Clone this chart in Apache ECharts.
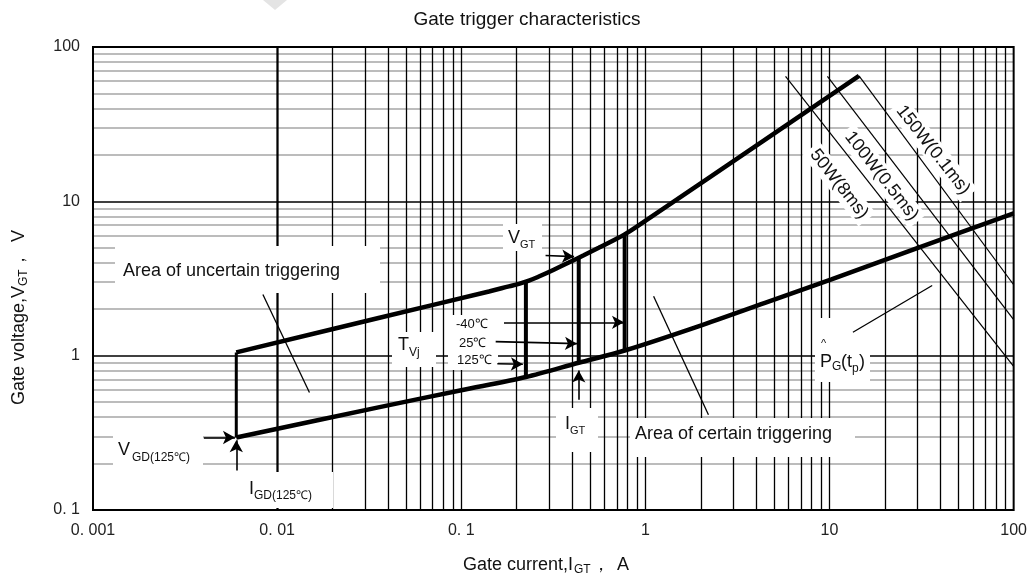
<!DOCTYPE html>
<html><head><meta charset="utf-8">
<script src="https://cdn.jsdelivr.net/npm/echarts@6/dist/echarts.min.js"></script>
<style>html,body{margin:0;padding:0;background:#fff;}#c{width:1030px;height:578px;}</style>
</head><body><div id="c"></div>
<script>
// ---- tick labels ----
const xTickValues = [0.001, 0.01, 0.1, 1, 10, 100];
const xTickLabels = ['0. 001', '0. 01', '0. 1', '1', '10', '100'];
const yTickValues = [0.1, 1, 10, 100];
const yTickLabels = ['0. 1', '1', '10', '100'];
const gridMultipliers = [2, 3, 4, 5, 6, 7, 8, 9];
const xDecades = [0.001, 0.01, 0.1, 1, 10];
const yDecades = [0.1, 1, 10];
const xInnerDecades = [0.01, 0.1, 1, 10];
const yInnerDecades = [1, 10];

// ---- boundary curves (I_GT [A], V_GT [V]) ----
const upperX = [0.006, 0.036, 0.1414, 0.1815, 0.2056, 0.2330, 0.2639, 0.3182, 0.3837, 0.4626, 0.5578, 0.6727, 0.7717, 0.9189, 14.46];
const upperY = [1.05, 1.76, 2.607, 2.810, 2.917, 3.060, 3.258, 3.607, 4.011, 4.473, 4.998, 5.598, 6.107, 6.985, 65.1];
const lowerX = [0.006, 0.036, 0.1, 0.2244, 0.4345, 0.7717, 1.94, 4.46, 10.24, 30.2, 100];
const lowerY = [0.295, 0.464, 0.597, 0.727, 0.9, 1.08, 1.55, 2.2, 3.12, 5.0, 8.35];

// ---- vertical trigger bars ----
const barX = [0.006, 0.2244, 0.4345, 0.7717];
const barLow = [0.295, 0.727, 0.9, 1.08];
const barHigh = [1.05, 3.0, 4.31, 6.107];
const barWidth = [3, 4, 4, 4];

// ---- peak gate power lines ----
const powerNames = ['50W(8ms)', '100W(0.5ms)', '150W(0.1ms)'];
const powerStartX = [5.77, 9.74, 14.46];
const powerStartY = [64.5, 64.5, 65.1];
const powerEndX = [100, 100, 100];
const powerEndY = [0.853, 1.71, 2.88];

// ---- annotation arrows ----
const arrowFromX = [0.0040, 0.006, 0.287, 0.1706, 0.1538, 0.157, 0.4345];
const arrowFromY = [0.295, 0.18, 4.46, 1.645, 1.233, 0.887, 0.518];
const arrowToX = [0.0059, 0.006, 0.41, 0.765, 0.425, 0.216, 0.4345];
const arrowToY = [0.295, 0.283, 4.38, 1.645, 1.196, 0.88, 0.8];

// ---- leader lines ----
const leaderFromX = [0.00837, 1.108, 36.1];
const leaderFromY = [2.49, 2.43, 2.85];
const leaderToX = [0.01498, 2.2, 13.4];
const leaderToY = [0.578, 0.414, 1.417];

const FONT = '"Liberation Sans", Arial, Helvetica, sans-serif';
const TXT = '#111';

function lbl(decs, labels) {
  return function (v) {
    const i = decs.findIndex(t => Math.abs(Math.log10(t) - Math.log10(v)) < 1e-6);
    return i >= 0 ? labels[i] : '';
  };
}
const zip = (xs, ys) => xs.map((x, i) => [x, ys[i]]);

const hMinor = [], vLines = [], hMajor = [];
yDecades.forEach(d => gridMultipliers.forEach(m => hMinor.push({ yAxis: d * m })));
xDecades.forEach(d => gridMultipliers.forEach(m => vLines.push({ xAxis: d * m })));
xInnerDecades.forEach(d => vLines.push({ xAxis: d }));
yInnerDecades.forEach(d => hMajor.push({ yAxis: d }));

function gridSeries(z, data, color, width) {
  return { type: 'line', data: [], z: z, silent: true,
    markLine: { silent: true, z: z, symbol: ['none', 'none'], label: { show: false }, animation: false,
      emphasis: { disabled: true }, lineStyle: { color: color, width: width, type: 'solid' }, data: data } };
}

const series = [];
series.push(gridSeries(1, hMinor, '#bcbcbc', 1.8));
series.push(gridSeries(2, hMajor, '#000', 1.6));
series.push(gridSeries(2, vLines, '#000', 1.3));
series.push({ type: 'line', z: 6, data: zip(upperX, upperY), smooth: 0.4, symbol: 'none', lineStyle: { color: '#000', width: 4.5 } });
series.push({ type: 'line', z: 6, data: zip(lowerX, lowerY), smooth: 0.3, symbol: 'none', lineStyle: { color: '#000', width: 4.5 } });
barX.forEach((x, i) => series.push({ type: 'line', z: 6, data: [[x, barLow[i]], [x, barHigh[i]]], symbol: 'none', lineStyle: { color: '#000', width: barWidth[i] } }));
powerNames.forEach((n, i) => series.push({ type: 'line', z: 5, name: n, data: [[powerStartX[i], powerStartY[i]], [powerEndX[i], powerEndY[i]]], symbol: 'none', lineStyle: { color: '#000', width: 1.2 } }));
series.push({
  type: 'line', data: [], z: 7, silent: true,
  markLine: { silent: true, z: 7, symbol: ['none', 'arrow'], symbolSize: [10, 12], label: { show: false }, animation: false,
    emphasis: { disabled: true }, lineStyle: { color: '#000', width: 1.6, type: 'solid' },
    data: arrowFromX.map((x, i) => [{ coord: [x, arrowFromY[i]] }, { coord: [arrowToX[i], arrowToY[i]] }]) }
});
series.push({
  type: 'line', data: [], z: 7, silent: true,
  markLine: { silent: true, z: 7, symbol: ['none', 'none'], label: { show: false }, animation: false,
    emphasis: { disabled: true }, lineStyle: { color: '#000', width: 1.3, type: 'solid' },
    data: leaderFromX.map((x, i) => [{ coord: [x, leaderFromY[i]] }, { coord: [leaderToX[i], leaderToY[i]] }]) }
});

function t(x, y, text, size) {
  return { type: 'text', x: x, y: y, z: 10, silent: true,
    style: { text: text, fill: TXT, font: size + 'px ' + FONT, align: 'left', verticalAlign: 'middle',
      textAlign: 'left', textVerticalAlign: 'middle' } };
}
function box(x, y, w, h) {
  return { type: 'rect', z: 3, silent: true, shape: { x: x, y: y, width: w, height: h }, style: { fill: '#fff' } };
}
function ptxt(x, y, text, rot) {
  return { type: 'text', x: x, y: y, rotation: rot, z: 4, silent: true,
    style: { text: text, fill: TXT, font: '18px ' + FONT, align: 'center', verticalAlign: 'middle', textAlign: 'center', textVerticalAlign: 'middle',
      backgroundColor: '#fff', padding: [2, 4, 2, 4] } };
}

const graphics = [
  { type: 'polygon', z: 1, silent: true, shape: { points: [[263, 0], [287, 0], [275, 10]] }, style: { fill: '#e4e4e4' } },
  { type: 'text', x: 527, y: 20, z: 10, silent: true, style: { text: 'Gate trigger characteristics', fill: TXT, font: '19px ' + FONT, align: 'center', verticalAlign: 'middle', textAlign: 'center', textVerticalAlign: 'middle' } },
  t(463, 565, 'Gate current,I', 18), t(574, 570, 'GT', 12), t(592, 565, '，', 18), t(617, 565, 'A', 18),
  { type: 'group', x: 19, y: 405, rotation: Math.PI / 2, silent: true, children: [
    t(0, 0, 'Gate voltage,V', 18), t(119, 5, 'GT', 12), t(136, 0, '，', 18), t(163, 0, 'V', 18)
  ] },
  box(115, 246, 265, 47), box(630, 418, 225, 39), box(556, 408, 42, 44), box(113, 433, 90, 40),
  box(243, 472, 90, 36), box(503, 224, 39, 27), box(392, 332, 44, 35), box(448, 315, 50, 55), box(815, 318, 55, 64),
  t(123, 271, 'Area of uncertain triggering', 18),
  t(635, 434, 'Area of certain triggering', 18),
  t(565, 424, 'I', 18), t(570, 431, 'GT', 11),
  t(118, 450, 'V', 18), t(132, 458, 'GD(125℃)', 12),
  t(249, 489, 'I', 18), t(254, 496, 'GD(125℃)', 12),
  t(508, 238, 'V', 18), t(520, 245, 'GT', 11),
  t(398, 345, 'T', 18), t(409, 353, 'Vj', 12),
  t(456, 324, '-40℃', 13), t(459, 343, '25℃', 13), t(457, 360, '125℃', 13),
  t(821, 344, '^', 11), t(820, 362, 'P', 18), t(832, 367, 'G', 12), t(841, 362, '(t', 18), t(852, 369, 'p', 12), t(859, 362, ')', 18),
  ptxt(839, 184, powerNames[0], -0.904), ptxt(881.5, 176, powerNames[1], -0.904), ptxt(933, 150, powerNames[2], -0.904)
];

const chart = echarts.init(document.getElementById('c'), null, { renderer: 'canvas' });
chart.setOption({
  animation: false,
  backgroundColor: '#fff',
  grid: { left: 93, right: 14, top: 47, bottom: 68, show: true, borderColor: '#000', borderWidth: 2, backgroundColor: 'transparent', z: 8 },
  xAxis: {
    type: 'log', logBase: 10, min: 0.001, max: 100, z: 0,
    axisLine: { show: false }, axisTick: { show: false }, splitLine: { show: false },
    axisLabel: { formatter: lbl(xTickValues, xTickLabels), fontSize: 16, color: '#222', fontFamily: FONT, margin: 13 }
  },
  yAxis: {
    type: 'log', logBase: 10, min: 0.1, max: 100, z: 0,
    axisLine: { show: false }, axisTick: { show: false }, splitLine: { show: false },
    axisLabel: { formatter: lbl(yTickValues, yTickLabels), fontSize: 16, color: '#222', fontFamily: FONT, margin: 13 }
  },
  series: series,
  graphic: { elements: graphics }
});
</script></body></html>
